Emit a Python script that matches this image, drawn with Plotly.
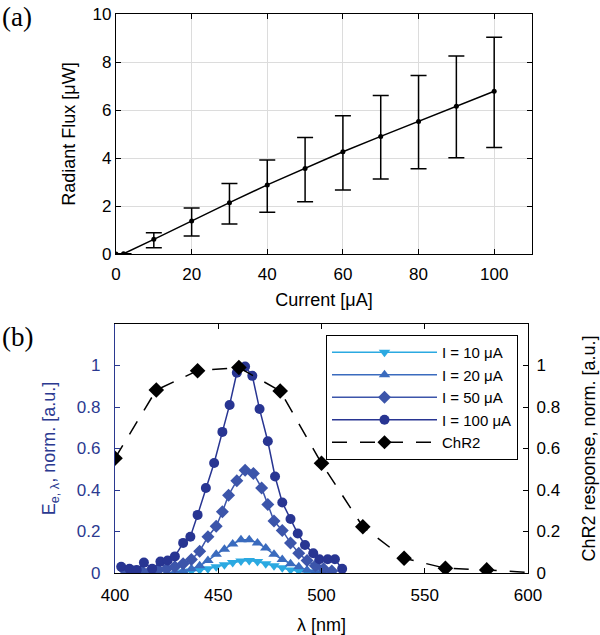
import plotly.graph_objects as go

# ---------------- panel (a) data ----------------
current = [0, 2, 10, 20, 30, 40, 50, 60, 70, 80, 90, 100]
flux = [0, 0.01, 0.61, 1.38, 2.14, 2.88, 3.56, 4.26, 4.90, 5.52, 6.16, 6.78]
flux_hi = [0, 0.01, 0.89, 1.92, 2.94, 3.92, 4.85, 5.76, 6.60, 7.44, 8.25, 9.03]
flux_lo = [0, 0.01, 0.26, 0.75, 1.25, 1.74, 2.18, 2.67, 3.12, 3.55, 4.01, 4.44]

# ---------------- panel (b) data ----------------
lam_10 = [433, 437, 441, 445, 449, 453, 457, 461, 465, 469, 473, 477, 481, 485, 489, 493]
e_10 = [0.005, 0.01, 0.015, 0.02, 0.03, 0.04, 0.05, 0.058, 0.06, 0.055, 0.045, 0.035, 0.025, 0.015, 0.01, 0.005]

lam_20 = [425, 429, 433, 437, 441, 445, 449, 453, 457, 461, 465, 469, 473, 477, 481, 485, 489, 493, 497, 501]
e_20 = [0.0, 0.005, 0.01, 0.02, 0.035, 0.06, 0.09, 0.115, 0.14, 0.16, 0.16, 0.145, 0.12, 0.09, 0.065, 0.045, 0.03, 0.015, 0.01, 0.005]

lam_50 = [405, 409, 413, 417, 421, 425, 429, 433, 437, 441, 445, 449, 452, 455, 459, 463, 467, 471, 474, 477, 481, 485, 489, 493, 497, 501, 505]
e_50 = [0.01, 0.005, 0.01, 0.01, 0.015, 0.02, 0.03, 0.045, 0.065, 0.105, 0.175, 0.225, 0.295, 0.375, 0.445, 0.495, 0.48, 0.41, 0.33, 0.25, 0.205, 0.145, 0.095, 0.06, 0.035, 0.02, 0.01]

lam_100 = [403, 407, 410.5, 414, 418, 422, 425.5, 429, 433, 436.5, 440, 444, 448, 452, 455.5, 459, 463, 466.5, 470, 474, 477.5, 481, 485, 488.5, 492, 496, 499, 503, 506.5, 510]
e_100 = [0.03, 0.02, 0.015, 0.05, 0.02, 0.055, 0.06, 0.08, 0.145, 0.175, 0.28, 0.41, 0.53, 0.68, 0.81, 0.965, 0.995, 0.95, 0.79, 0.635, 0.465, 0.34, 0.26, 0.19, 0.135, 0.095, 0.066, 0.066, 0.066, 0.02]

lam_chr2 = [400, 420, 440, 460, 480, 500, 520, 540, 560, 580, 600]
chr2 = [0.553, 0.882, 0.975, 0.99, 0.877, 0.529, 0.223, 0.071, 0.023, 0.015, 0.003]

series_names = ["I = 10 μA", "I = 20 μA", "I = 50 μA", "I = 100 μA"]
series_colors = ["#2BA9E1", "#3A6BBE", "#3C55AA", "#283592"]
series_symbols = ["triangle-down", "triangle-up", "diamond", "circle"]

BLUE = "#2B3990"
FONT = "Liberation Sans, Arial, sans-serif"
TICK_SIZE = 17
TITLE_SIZE = 18

fig = go.Figure()

# panel (a)
fig.add_trace(go.Scatter(
    x=current, y=flux, mode="lines+markers",
    line=dict(color="black", width=1.5),
    marker=dict(size=5, color="black"),
    error_y=dict(type="data", symmetric=False,
                 array=[h - f for h, f in zip(flux_hi, flux)],
                 arrayminus=[f - l for f, l in zip(flux, flux_lo)],
                 color="black", thickness=1.5, width=8),
    xaxis="x", yaxis="y", showlegend=False))

# panel (b)
for lam, e, name, col, sym in zip([lam_10, lam_20, lam_50, lam_100],
                                  [e_10, e_20, e_50, e_100],
                                  series_names, series_colors, series_symbols):
    fig.add_trace(go.Scatter(
        x=lam, y=e, name=name, mode="lines+markers",
        line=dict(color=col, width=1.5),
        marker=dict(symbol=sym, size=10, color=col, opacity=1),
        xaxis="x2", yaxis="y2", legendgroup=name))

fig.add_trace(go.Scatter(
    x=lam_chr2, y=chr2, name="ChR2", mode="lines+markers",
    line=dict(color="black", width=1.5, dash="15px,13px"),
    marker=dict(symbol="diamond", size=[12] * (len(chr2) - 1) + [0],
                color="black", opacity=1, line=dict(width=0)),
    xaxis="x2", yaxis="y3", legendgroup="ChR2"))

tickfont = dict(family=FONT, size=TICK_SIZE, color="black")
common = dict(showline=True, linecolor="black", linewidth=1.3, ticks="inside",
              ticklen=5, tickwidth=1.2, tickcolor="black", zeroline=False,
              tickfont=tickfont, automargin=False)

fig.update_layout(
    width=600, height=635,
    margin=dict(l=0, r=0, t=0, b=0),
    paper_bgcolor="white", plot_bgcolor="white",
    font=dict(family=FONT, size=TICK_SIZE, color="black"),
    xaxis=dict(domain=[116 / 600, 532 / 600], anchor="y", range=[0, 110],
               tickvals=[0, 20, 40, 60, 80, 100], mirror="ticks",
               showgrid=True, gridcolor="#DCDCDC", gridwidth=1,
               ticklabelstandoff=4,
               title=dict(text="Current [μA]", standoff=10,
                          font=dict(family=FONT, size=TITLE_SIZE)),
               **common),
    yaxis=dict(domain=[1 - 254 / 635, 1 - 14 / 635], anchor="x", range=[0, 10],
               tickvals=[0, 2, 4, 6, 8, 10], mirror="ticks",
               showgrid=True, gridcolor="#DCDCDC", gridwidth=1,
               title=dict(text="Radiant Flux [μW]", standoff=12,
                          font=dict(family=FONT, size=TITLE_SIZE)),
               **common),
    xaxis2=dict(domain=[115 / 600, 528 / 600], anchor="y2", range=[400, 600],
                tickvals=[400, 450, 500, 550, 600], mirror="ticks", showgrid=False,
                ticklabelstandoff=6,
                title=dict(text="λ [nm]", standoff=14,
                           font=dict(family=FONT, size=TITLE_SIZE)),
                **common),
    yaxis2=dict(domain=[1 - 573 / 635, 1 - 324 / 635], anchor="x2", range=[0, 1.2],
                tickvals=[0, 0.2, 0.4, 0.6, 0.8, 1],
                ticktext=["0", "0.2", "0.4", "0.6", "0.8", "1"],
                showgrid=False, showline=True, linecolor=BLUE, linewidth=1.3,
                ticks="inside", ticklen=5, tickwidth=1.2, tickcolor=BLUE,
                zeroline=False, automargin=False, ticklabelstandoff=10,
                tickfont=dict(family=FONT, size=TICK_SIZE, color=BLUE),
                title=dict(text="E<sub>e, λ</sub>, norm. [a.u.]", standoff=16,
                           font=dict(family=FONT, size=TITLE_SIZE, color=BLUE))),
    yaxis3=dict(overlaying="y2", side="right", anchor="x2", range=[0, 1.2],
                tickvals=[0, 0.2, 0.4, 0.6, 0.8, 1],
                ticktext=["0", "0.2", "0.4", "0.6", "0.8", "1"],
                showgrid=False, ticklabelstandoff=4,
                title=dict(text="ChR2 response, norm. [a.u.]", standoff=23,
                           font=dict(family=FONT, size=TITLE_SIZE)),
                **common),
    legend=dict(x=326 / 600, y=1 - 335 / 635, xanchor="left", yanchor="top",
                bordercolor="black", borderwidth=1, bgcolor="white",
                font=dict(family=FONT, size=15), tracegroupgap=0,
                itemwidth=105),
    annotations=[
        dict(text="(a)", x=0.0, y=1 - 17 / 635, xref="paper", yref="paper",
             xanchor="left", yanchor="middle", showarrow=False,
             font=dict(family="Liberation Serif, Times New Roman, serif", size=27)),
        dict(text="(b)", x=0.0, y=1 - 337 / 635, xref="paper", yref="paper",
             xanchor="left", yanchor="middle", showarrow=False,
             font=dict(family="Liberation Serif, Times New Roman, serif", size=27)),
    ],
)

fig.write_html("out.html", config={"displayModeBar": False},
               post_script="document.body.style.margin='0';document.body.style.overflow='hidden';")
